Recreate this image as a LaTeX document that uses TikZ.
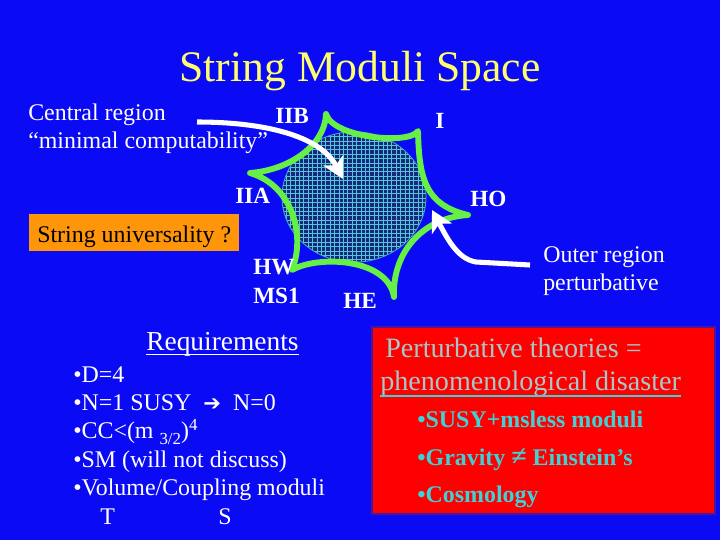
\documentclass[tikz,border=0pt]{standalone}
\usepackage{fontspec}
\setmainfont{Liberation Serif}
\newfontfamily\dejavu{DejaVu Sans}
\usetikzlibrary{arrows.meta}
\definecolor{bgblue}{RGB}{10,10,245}
\definecolor{ttl}{RGB}{255,255,110}
\definecolor{stargreen}{RGB}{102,240,70}
\definecolor{orangebox}{RGB}{255,150,10}
\definecolor{navyfill}{RGB}{25,40,125}
\definecolor{gridcyan}{RGB}{80,200,215}
\definecolor{redbox}{RGB}{255,0,0}
\definecolor{redborder}{RGB}{80,20,150}
\definecolor{pgray}{RGB}{165,200,200}
\definecolor{pcyan}{RGB}{60,210,215}
\tikzset{
  lbl/.style={text=white, inner sep=0pt, anchor=base west, font=\fontsize{17}{20}\selectfont},
  vlbl/.style={lbl, font=\fontsize{16.5}{20}\selectfont\bfseries},
  reqitem/.style={lbl, font=\fontsize{17}{20}\selectfont},
  pitem/.style={text=pcyan, inner sep=0pt, anchor=base west, font=\fontsize{17}{20}\selectfont\bfseries},
  ptext/.style={text=pgray, inner sep=0pt, anchor=base west, font=\fontsize{20}{24}\selectfont},
  starline/.style={draw=stargreen, line width=4.2pt, line join=round, line cap=round},
  bigarrow/.style={draw=white, line width=3.6pt, -{Stealth[length=15pt, width=16pt, inset=4pt]}},
}
\begin{document}
\begin{tikzpicture}[x=0.025cm, y=-0.025cm]
\useasboundingbox (0,0) rectangle (720,540);
\fill[bgblue] (0,0) rectangle (720,540);

% title
\node[text=ttl, inner sep=0pt, anchor=base, font=\fontsize{31}{36}\selectfont] (title) at (360,81) {String Moduli Space};

% hatched moduli region
\begin{scope}
  \clip (354,197) ellipse [x radius=1.8cm, y radius=1.63cm];
  \fill[navyfill] (270,120) rectangle (440,280);
  \draw[gridcyan, line width=0.45pt, step=0.11cm] (270,120) grid (440,280);
\end{scope}
\draw[gridcyan!80!navyfill, line width=0.6pt] (354,197) ellipse [x radius=1.8cm, y radius=1.63cm];

% star vertices
\coordinate (vIIB) at (326,114);
\coordinate (vI)   at (418,131);
\coordinate (vHO)  at (468,215);
\coordinate (vHE)  at (394,297);
\coordinate (vHW)  at (292,270);
\coordinate (vIIA) at (250,173);
\draw[starline] (vIIB) .. controls (333,138) and (410,145) .. (vI)
  .. controls (419,178) and (425,205) .. (vHO)
  .. controls (420,218) and (392,255) .. (vHE)
  .. controls (388,258) and (318,255) .. (vHW)
  .. controls (306,235) and (292,185) .. (vIIA)
  .. controls (290,170) and (325,145) .. (vIIB);

% vertex labels
\node[vlbl] (lIIB) at (275,123) {IIB};
\node[vlbl] (lI) at (435,128) {I};
\node[vlbl] (lIIA) at (235,203) {IIA};
\node[vlbl] (lHO) at (470,206) {HO};
\node[vlbl] (lHW) at (253,274) {HW};
\node[vlbl] (lMS) at (253,303) {MS1};
\node[vlbl] (lHE) at (343,308) {HE};

% top-left texts
\node[lbl] (central) at (28,120) {Central region};
\node[lbl] (minimal) at (28,148) {“minimal computability”};

% orange box
\fill[orangebox] (29,214) rectangle (239,251);
\node[lbl, text=black] (univ) at (37,242) {String universality ?};

% outer region text
\node[lbl] (outer1) at (543,262) {Outer region};
\node[lbl] (outer2) at (543,290) {perturbative};

% arrows
\coordinate (a1s) at (197,122);
\coordinate (a1e) at (343,179);
\draw[bigarrow] (a1s) .. controls (262,122) and (320,135) .. (a1e);
\coordinate (a2s) at (530,265);
\coordinate (a2b) at (476,262);
\coordinate (a2e) at (432,210);
\draw[bigarrow] (a2s) -- (a2b) .. controls (458,259) and (448,240) .. (a2e);

% requirements
\node[lbl, font=\fontsize{19.5}{23}\selectfont] (req) at (146,350) {Requirements};
\draw[white, line width=1pt] ([yshift=-3.2pt]req.base west) -- ([yshift=-3.2pt]req.base east);
\node[reqitem] (r1) at (73,382) {•D=4};
\node[reqitem] (r2) at (73,410) {•N=1 SUSY\enspace{\dejavu\bfseries\fontsize{15}{18}\selectfont ➔}\enspace N=0};
\node[reqitem] (r3) at (73,438) {•CC<(m \raisebox{-0.28em}{\fontsize{12}{12}\selectfont 3/2})\raisebox{0.33em}{\fontsize{12}{12}\selectfont 4}};
\node[reqitem] (r4) at (73,467) {•SM (will not discuss)};
\node[reqitem] (r5) at (73,495) {•Volume/Coupling moduli};
\node[reqitem] (rT) at (100,524) {T};
\node[reqitem] (rS) at (218,524) {S};

% red box
\fill[redbox, draw=redborder, line width=0.8pt] (372,327) rectangle (715,514);
\node[ptext] (p1) at (385,357) {Perturbative theories =};
\node[ptext] (p2) at (380,390) {phenomenological disaster};
\draw[pcyan, line width=1.6pt] ([yshift=-4pt]p2.base west) -- ([yshift=-4pt]p2.base east);
\node[pitem] (b1) at (417,427) {•SUSY+msless moduli};
\node[pitem] (b2) at (417,465) {•Gravity {\fontsize{20}{20}\selectfont ≠} Einstein’s};
\node[pitem] (b3) at (417,502) {•Cosmology};
\end{tikzpicture}
\end{document}
